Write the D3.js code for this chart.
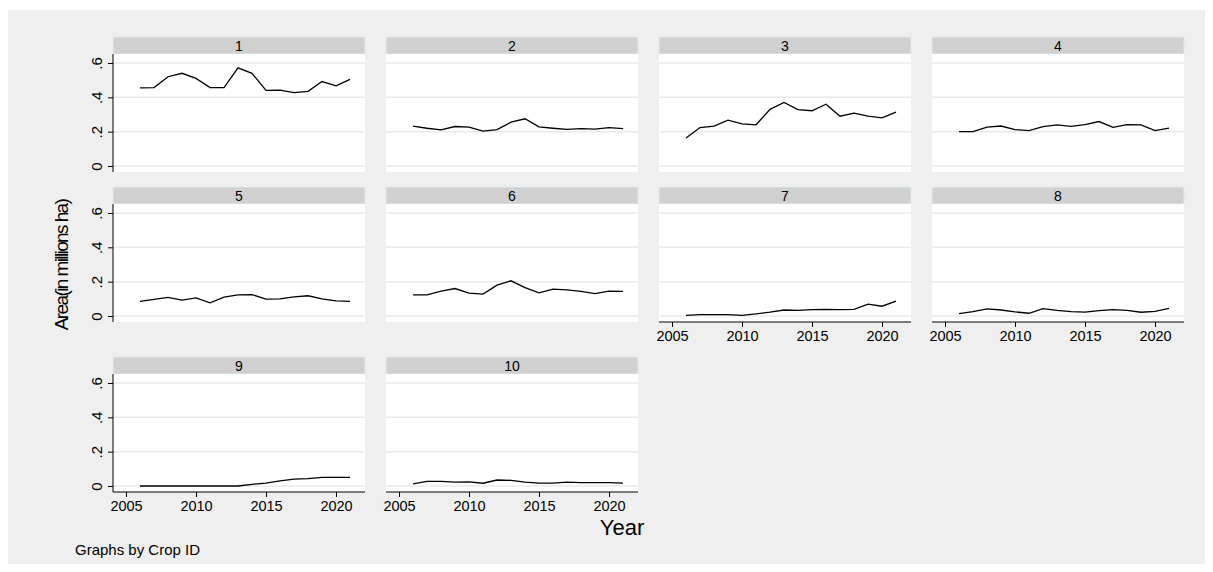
<!DOCTYPE html>
<html>
<head>
<meta charset="utf-8">
<script src="https://cdn.jsdelivr.net/npm/d3@7"></script>
<style>
body { margin: 0; background: #fff; }
text { font-family: "Liberation Sans", Arial, sans-serif; }
</style>
</head>
<body>
<svg id="chart" width="1213" height="572"></svg>
<script>
// years and one series per crop id
var years = d3.range(2006, 2022);
var crop1 = [.455,.457,.52,.54,.51,.457,.457,.572,.54,.44,.442,.427,.435,.492,.467,.505];
var crop2 = [.232,.22,.21,.23,.227,.203,.212,.255,.275,.228,.22,.213,.218,.215,.223,.218];
var crop3 = [.163,.224,.232,.267,.245,.24,.33,.37,.328,.322,.36,.29,.308,.29,.28,.314];
var crop4 = [.2,.2,.227,.233,.212,.206,.229,.239,.231,.241,.259,.225,.241,.239,.206,.22];
var crop5 = [.085,.097,.108,.093,.105,.077,.11,.123,.125,.098,.1,.112,.118,.1,.088,.085];
var crop6 = [.123,.123,.145,.16,.133,.128,.18,.205,.165,.135,.157,.152,.143,.13,.145,.143];
var crop7 = [.004,.008,.008,.008,.004,.012,.022,.035,.033,.037,.039,.037,.039,.069,.057,.086];
var crop8 = [.014,.025,.041,.035,.024,.016,.043,.033,.025,.022,.031,.037,.033,.022,.027,.045];
var crop9 = [0,0,0,0,0,0,0,0,.01,.017,.03,.04,.043,.05,.05,.05];
var crop10 = [.012,.027,.027,.022,.024,.016,.035,.033,.022,.017,.017,.022,.02,.02,.02,.017];
var series = [crop1, crop2, crop3, crop4, crop5, crop6, crop7, crop8, crop9, crop10];
var yTicks = [0, .2, .4, .6];
var xTicks = [2005, 2010, 2015, 2020];

var svg = d3.select("#chart");
svg.append("rect").attr("x", 8).attr("y", 10).attr("width", 1197).attr("height", 554).attr("fill", "#efefef");

var pw = 252, pitch = 273, left0 = 113;
var rowTop = [37, 187, 357]; // header tops
var x = d3.scaleLinear().domain([2004.07, 2022.07]).range([0, pw]);
var y = d3.scaleLinear().domain([0, .6]).range([129, 26]);
var ph = 135, hh = 17;

series.forEach(function(vals, i) {
    var col = i % 4, row = Math.floor(i / 4);
    var g = svg.append("g").attr("transform", "translate(" + (left0 + col * pitch) + "," + rowTop[row] + ")");
    g.append("rect").attr("width", pw).attr("height", hh).attr("fill", "#d0d0d0").attr("stroke", "#dfe9ee").attr("stroke-width", 1);
    g.append("text").attr("x", pw / 2).attr("y", 13.5).attr("text-anchor", "middle").attr("font-size", 14).text(i + 1);
    g.append("rect").attr("y", hh).attr("width", pw).attr("height", ph - hh).attr("fill", "#fff");
    yTicks.forEach(function(t) {
        g.append("line").attr("x1", 0).attr("x2", pw).attr("y1", y(t)).attr("y2", y(t)).attr("stroke", "#eaeaea").attr("stroke-width", 1.5);
    });
    var line = d3.line().x(function(d, j) { return x(years[j]); }).y(function(d) { return y(d); });
    g.append("path").datum(vals).attr("d", line).attr("fill", "none").attr("stroke", "#000").attr("stroke-width", 1.3);

    if (col == 0) {
        var ya = g.append("g").attr("font-size", 15).attr("font-family", null)
            .call(d3.axisLeft(y).tickValues(yTicks).tickSize(5).tickFormat(function(d) { return d == 0 ? "0" : d3.format(".1f")(d).replace("0.", "."); }));
        ya.attr("font-size", 15).attr("font-family", null);
        ya.select(".domain").attr("d", "M0," + hh + "V" + ph);
        ya.selectAll(".tick text").attr("transform", "translate(-16,0) rotate(-90)").attr("x", 0).attr("y", 0)
            .attr("dy", "0.35em").attr("text-anchor", "middle");
    }
    if (i >= 6) {
        var xa = g.append("g").attr("transform", "translate(0," + ph + ")")
            .call(d3.axisBottom(x).tickValues(xTicks).tickSize(5).tickFormat(d3.format("d")));
        xa.attr("font-size", 14.5).attr("font-family", null);
        xa.select(".domain").attr("d", "M0,0H" + pw);
        xa.selectAll(".tick text").attr("dy", "0.75em");
    }
});

svg.append("text").attr("transform", "translate(68,265) rotate(-90)").attr("text-anchor", "middle")
    .attr("font-size", 19).attr("letter-spacing", -1.6).text("Area(in millions ha)");
svg.append("text").attr("x", 622).attr("y", 535).attr("text-anchor", "middle").attr("font-size", 22).text("Year");
svg.append("text").attr("x", 75).attr("y", 555).attr("font-size", 15).text("Graphs by Crop ID");
</script>
</body>
</html>
